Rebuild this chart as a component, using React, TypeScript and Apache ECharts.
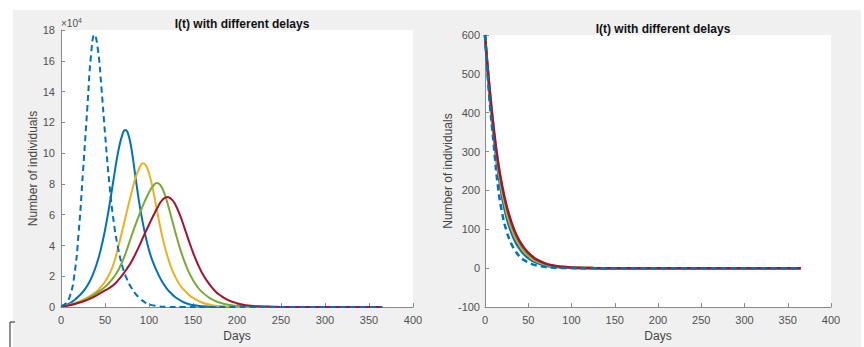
import React, { useEffect, useRef } from "react";
import * as echarts from "echarts";

// ---------- Left panel: I(t) in units of 10^4 individuals ----------
const leftDashed: [number, number][] = [
  [0, 0.06], [5, 0.22], [10, 0.7], [15, 2.0], [20, 4.8], [25, 8.8], [30, 13.0], [34, 16.3],
  [38, 17.7], [42, 16.7], [46, 14.2], [50, 11.3], [55, 8.0], [60, 5.5], [65, 3.8], [70, 2.6],
  [75, 1.8], [80, 1.25], [85, 0.85], [90, 0.55], [95, 0.32], [100, 0.18], [110, 0.06],
  [120, 0.02], [140, 0], [200, 0], [300, 0], [365, 0],
];
const leftDelay1: [number, number][] = [
  [0, 0.06], [5, 0.12], [10, 0.25], [15, 0.45], [20, 0.7], [25, 1.0], [30, 1.4], [35, 1.95],
  [40, 2.7], [45, 3.7], [50, 5.0], [55, 6.6], [60, 8.4], [65, 10.1], [70, 11.25], [73, 11.5],
  [76, 11.3], [80, 10.3], [85, 8.3], [90, 6.4], [95, 4.9], [100, 3.7], [105, 2.85], [110, 2.2],
  [115, 1.65], [120, 1.22], [125, 0.9], [130, 0.64], [140, 0.3], [150, 0.13], [160, 0.06],
  [175, 0.02], [200, 0], [300, 0], [365, 0],
];
const leftDelay2: [number, number][] = [
  [0, 0.06], [10, 0.15], [20, 0.35], [30, 0.62], [40, 1.0], [45, 1.3], [50, 1.65], [55, 2.15],
  [60, 2.85], [65, 3.9], [70, 5.05], [75, 6.25], [80, 7.4], [85, 8.45], [90, 9.15], [93, 9.35],
  [96, 9.25], [100, 8.7], [105, 7.5], [110, 6.0], [115, 4.6], [120, 3.5], [125, 2.6], [130, 1.95],
  [135, 1.45], [140, 1.1], [145, 0.82], [150, 0.6], [160, 0.3], [170, 0.15], [180, 0.07],
  [200, 0.02], [220, 0], [300, 0], [365, 0],
];
const leftDelay3: [number, number][] = [
  [0, 0.06], [10, 0.13], [20, 0.3], [30, 0.55], [40, 0.9], [50, 1.3], [55, 1.6], [60, 1.95],
  [65, 2.4], [70, 3.0], [75, 3.75], [80, 4.6], [85, 5.4], [90, 6.15], [95, 6.85], [100, 7.45],
  [105, 7.9], [109, 8.06], [113, 7.92], [118, 7.3], [122, 6.55], [126, 5.7], [130, 4.85],
  [135, 3.85], [140, 3.0], [145, 2.3], [150, 1.75], [155, 1.32], [160, 1.0], [170, 0.55],
  [180, 0.3], [190, 0.15], [200, 0.08], [215, 0.03], [240, 0], [300, 0], [365, 0],
];
const leftDelay4: [number, number][] = [
  [0, 0.06], [10, 0.12], [20, 0.28], [30, 0.47], [40, 0.75], [50, 1.08], [55, 1.25], [60, 1.45],
  [65, 1.75], [70, 2.1], [75, 2.5], [80, 2.95], [85, 3.5], [90, 4.1], [95, 4.75], [100, 5.35],
  [105, 5.95], [110, 6.5], [115, 6.95], [121, 7.16], [126, 6.98], [130, 6.65], [135, 6.0],
  [140, 5.2], [145, 4.35], [150, 3.55], [155, 2.85], [160, 2.25], [165, 1.78], [170, 1.38],
  [175, 1.05], [180, 0.8], [190, 0.45], [200, 0.25], [210, 0.12], [225, 0.05], [250, 0.01],
  [270, 0], [300, 0], [365, 0],
];

// ---------- Right panel: I(t) in individuals ----------
const rightDashed: [number, number][] = [
  [0, 600], [5, 440], [10, 320], [15, 210], [20, 140], [25, 95], [30, 65], [35, 45], [40, 30],
  [45, 21], [50, 15], [55, 10], [60, 7], [70, 3], [80, 1.5], [90, 0.7], [100, 0.3], [120, 0],
  [200, 0], [300, 0], [365, 0],
];
const rightDelay1: [number, number][] = [
  [0, 600], [5, 450], [10, 340], [15, 250], [20, 180], [25, 130], [30, 95], [35, 68], [40, 50],
  [45, 36], [50, 26], [55, 19], [60, 14], [70, 7], [80, 3.5], [90, 1.8], [100, 0.9], [125, 0.2],
  [150, 0], [200, 0], [300, 0], [365, 0],
];
const rightDelay2: [number, number][] = [
  [0, 600], [5, 460], [10, 350], [15, 262], [20, 195], [25, 145], [30, 108], [35, 80], [40, 60],
  [45, 44], [50, 33], [55, 24], [60, 18], [70, 9.5], [80, 5], [90, 2.7], [100, 1.4], [125, 0.3],
  [150, 0], [200, 0], [300, 0], [365, 0],
];
const rightDelay3: [number, number][] = [
  [0, 600], [5, 465], [10, 355], [15, 268], [20, 203], [25, 153], [30, 115], [35, 86], [40, 65],
  [45, 48], [50, 36], [55, 27], [60, 20], [70, 11], [80, 5.8], [90, 3.1], [100, 1.7],
  [125, 0.35], [150, 0.05], [200, 0], [300, 0], [365, 0],
];
const rightDelay4: [number, number][] = [
  [0, 600], [5, 470], [10, 362], [15, 275], [20, 210], [25, 160], [30, 122], [35, 92], [40, 70],
  [45, 53], [50, 40], [55, 30], [60, 22], [70, 12], [80, 6.5], [90, 3.5], [100, 2], [125, 0.4],
  [150, 0.1], [200, 0], [300, 0], [365, 0],
];

const titleText = "I(t) with different delays";
const xName = "Days";
const yName = "Number of individuals";

const BLUE = "#0072BD";
const ORANGE = "#EDB120";
const GREEN = "#77AC30";
const RED = "#A2142F";
const FONT = "'Liberation Sans', Arial, sans-serif";
const AXIS = "#8a8a8a";
const LABEL = "#505050";

export default function App() {
  const ref = useRef<HTMLDivElement>(null);
  useEffect(() => {
    if (!ref.current) return;
    const chart = echarts.init(ref.current, null, { renderer: "svg" });

    const axisCommon = {
      axisLine: { show: true, onZero: false, lineStyle: { color: AXIS, width: 1 } },
      axisTick: { show: true, inside: true, length: 4, lineStyle: { color: AXIS } },
      splitLine: { show: false },
      axisLabel: { color: LABEL, fontFamily: FONT, fontSize: 11 },
      nameTextStyle: { color: "#444", fontFamily: FONT, fontSize: 12 },
      nameLocation: "middle" as const,
    };

    const mk = (data: [number, number][], color: string, idx: number, dashed: boolean, width: number) => ({
      type: "line",
      xAxisIndex: idx,
      yAxisIndex: idx,
      data,
      showSymbol: false,
      smooth: 0.5,
      lineStyle: { color, width, type: dashed ? [6, 4] : "solid" },
      itemStyle: { color },
    });

    chart.setOption({
      animation: false,
      backgroundColor: "#ffffff",
      graphic: [
        { type: "rect", z: -100, silent: true, shape: { x: 13, y: 10, width: 848, height: 337 }, style: { fill: "#f0f0f0" } },
        { type: "polyline", z: 100, silent: true, shape: { points: [[15, 322], [10, 322], [10, 347]] }, style: { stroke: "#222", lineWidth: 1, fill: "none" } },
        {
          type: "text", z: 100, left: 61, top: 17,
          style: {
            text: "\u00d710{s|4}", fill: LABEL, font: `10px ${FONT}`,
            rich: { s: { fontSize: 7, verticalAlign: "top", fill: LABEL, fontFamily: FONT, padding: [0, 0, 6, 0] } },
          },
        },
      ],
      title: [
        { text: titleText, left: 237, top: 13, textAlign: "center", textStyle: { fontFamily: FONT, fontSize: 12, fontWeight: "bold", color: "#111" } },
        { text: titleText, left: 658, top: 18, textAlign: "center", textStyle: { fontFamily: FONT, fontSize: 12, fontWeight: "bold", color: "#111" } },
      ],
      grid: [
        { left: 61, top: 30, width: 352, height: 279, show: true, backgroundColor: "#ffffff", borderWidth: 0 },
        { left: 485, top: 35, width: 346, height: 273, show: true, backgroundColor: "#ffffff", borderWidth: 0 },
      ],
      xAxis: [
        { ...axisCommon, type: "value", gridIndex: 0, min: 0, max: 400, interval: 50, name: xName, nameGap: 22, axisLabel: { ...axisCommon.axisLabel, margin: 7 } },
        { ...axisCommon, type: "value", gridIndex: 1, min: 0, max: 400, interval: 50, name: xName, nameGap: 21, axisLabel: { ...axisCommon.axisLabel, margin: 7 } },
      ],
      yAxis: [
        { ...axisCommon, type: "value", gridIndex: 0, min: 0, max: 18, interval: 2, name: yName, nameGap: 22, axisLabel: { ...axisCommon.axisLabel, margin: 6 } },
        { ...axisCommon, type: "value", gridIndex: 1, min: -100, max: 600, interval: 100, name: yName, nameGap: 29, axisLabel: { ...axisCommon.axisLabel, margin: 5 } },
      ],
      series: [
        mk(leftDelay1, BLUE, 0, false, 2),
        mk(leftDelay2, ORANGE, 0, false, 2),
        mk(leftDelay3, GREEN, 0, false, 2),
        mk(leftDelay4, RED, 0, false, 2),
        mk(leftDashed, BLUE, 0, true, 2),
        mk(rightDelay1, BLUE, 1, false, 2.5),
        mk(rightDelay2, ORANGE, 1, false, 2.5),
        mk(rightDelay3, GREEN, 1, false, 2.5),
        mk(rightDelay4, RED, 1, false, 2.5),
        mk(rightDashed, BLUE, 1, true, 2.5),
      ],
    });
    return () => chart.dispose();
  }, []);
  return <div ref={ref} style={{ position: "absolute", left: 0, top: 0, width: 864, height: 347 }} />;
}
